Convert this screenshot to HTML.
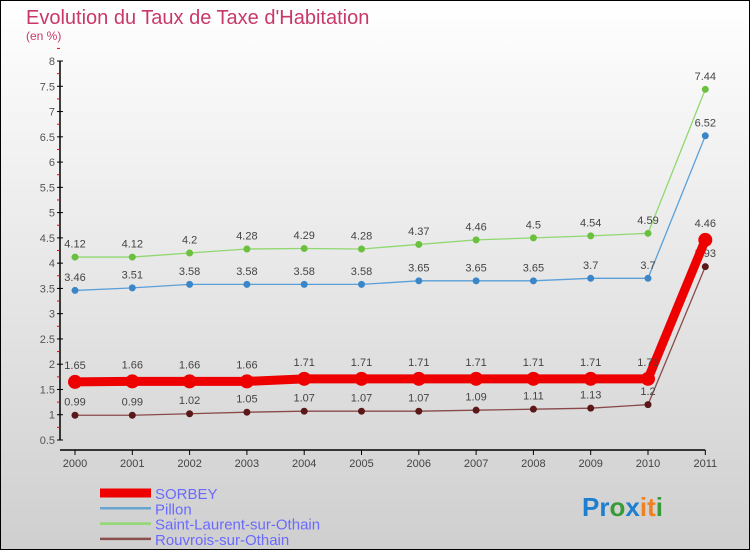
<!DOCTYPE html>
<html><head><meta charset="utf-8"><style>
body{margin:0}
#c{width:750px;height:550px;position:relative;overflow:hidden}
svg text{font-family:"Liberation Sans",sans-serif}
</style></head><body>
<div id="c">
<svg id="s" width="750" height="550" xmlns="http://www.w3.org/2000/svg">
<defs><linearGradient id="bg" x1="0" y1="0" x2="0" y2="1"><stop offset="0" stop-color="#ffffff"/><stop offset="1" stop-color="#cfcfcf"/></linearGradient></defs>
<rect x="0.5" y="0.5" width="749" height="549" fill="url(#bg)" stroke="#000"/>
<text x="26" y="24" font-size="20" fill="#c8386a">Evolution du Taux de Taxe d'Habitation</text>
<text x="26" y="40" font-size="12" fill="#c8386a">(en %)</text>
<g id="axes"></g><g id="series"></g><g id="legend"></g>
<text x="582" y="516" font-size="26" font-weight="bold"><tspan fill="#1e7fd0">Pr</tspan><tspan fill="#3a9a3a">o</tspan><tspan fill="#1e7fd0">x</tspan><tspan fill="#f08020">i</tspan><tspan fill="#f08020">t</tspan><tspan fill="#3a9a3a">i</tspan></text>
</svg></div>
<script>
const years=[2000,2001,2002,2003,2004,2005,2006,2007,2008,2009,2010,2011];
const sorbey=[1.65,1.66,1.66,1.66,1.71,1.71,1.71,1.71,1.71,1.71,1.71,4.46];
const pillon=[3.46,3.51,3.58,3.58,3.58,3.58,3.65,3.65,3.65,3.7,3.7,6.52];
const stLaurent=[4.12,4.12,4.2,4.28,4.29,4.28,4.37,4.46,4.5,4.54,4.59,7.44];
const rouvrois=[0.99,0.99,1.02,1.05,1.07,1.07,1.07,1.09,1.11,1.13,1.2,3.93];
const yTicks=[0.5,1,1.5,2,2.5,3,3.5,4,4.5,5,5.5,6,6.5,7,7.5,8];
const NS="http://www.w3.org/2000/svg";
const X=i=>75+i*57.3;
const Y=v=>440-(v-0.5)*50.53;
function mk(p,t,a){const e=document.createElementNS(NS,t);for(const k in a)e.setAttribute(k,a[k]);p.appendChild(e);return e;}
const ax=document.getElementById('axes');
let l=mk(ax,'line',{x1:60,y1:Y(8),x2:60,y2:Y(0.5),stroke:'#000','stroke-width':1.5});


yTicks.forEach(v=>{
 const t=mk(ax,'line',{x1:57,x2:63,y1:Y(v),y2:Y(v),stroke:'#000'});
 
 
 const tx=mk(ax,'text',{x:55,y:Y(v)+4,'font-size':11,fill:'#555','text-anchor':'end'});
 tx.textContent=String(v);
 
 
 const m=mk(ax,'line',{x1:57,x2:60,y1:Y(v+0.25),y2:Y(v+0.25),stroke:'#e00'});
 
 
});
l=mk(ax,'line',{x1:60,y1:450,x2:X(11),y2:450,stroke:'#000','stroke-width':1.5});


years.forEach((y,i)=>{
 const t=mk(ax,'line',{x1:X(i),x2:X(i),y1:450,y2:455,stroke:'#000'});
 
 
 const tx=mk(ax,'text',{x:X(i),y:467,'font-size':11,fill:'#444','text-anchor':'middle'});
 tx.textContent=y;
 
 
});
const sg=document.getElementById('series');
function series(name,data,color,dot,w,r){
 const g=mk(sg,'g',{});
 
 
 const pl=mk(g,'polyline',{points:data.map((v,i)=>X(i)+','+Y(v)).join(' '),fill:'none',stroke:color,'stroke-width':w});
 
 
 data.forEach((v,i)=>{
  const c=mk(g,'circle',{cx:X(i),cy:Y(v),r:r,fill:dot});
  
  
  const t=mk(g,'text',{x:X(i),y:Y(v)-(r+6),'font-size':11,fill:'#444','text-anchor':'middle'});
  t.textContent=String(v);
  
  
 });
}
series('st-laurent',stLaurent,'#8fd870','#6cc040',1.3,3.5);
series('pillon',pillon,'#5a9fd8','#3a86c8',1.3,3.5);
series('rouvrois',rouvrois,'#8a4a4a','#5a1818',1.3,3.5);
series('sorbey',sorbey,'#ee0000','#ee0000',9,7);
const lg=document.getElementById('legend');
[['SORBEY','#ee0000',9],['Pillon','#6aa4d0',2.5],['Saint-Laurent-sur-Othain','#90d870',2.5],['Rouvrois-sur-Othain','#8a5050',2.5]].forEach((d,i)=>{
 const y=493+i*15.3;
 const g=mk(lg,'g',{});
 
 
 mk(g,'line',{x1:100,x2:151,y1:y,y2:y,stroke:d[1],'stroke-width':d[2]});
 const t=mk(g,'text',{x:155,y:y+6,'font-size':15,fill:'#6a6aff'});
 t.textContent=d[0];
});
</script>
</body></html>
